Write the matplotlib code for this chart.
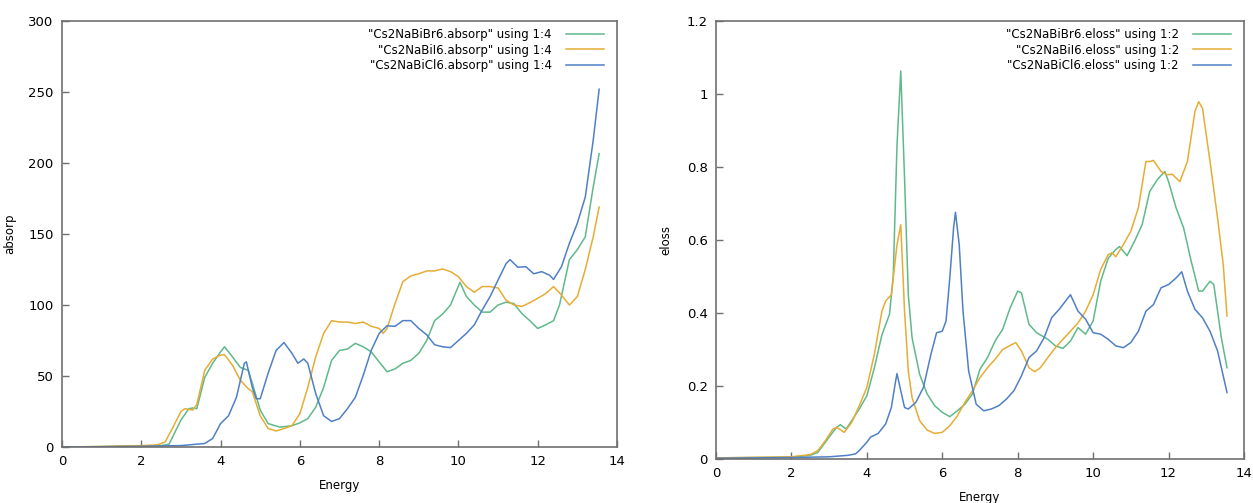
import numpy as np
import matplotlib
matplotlib.use("Agg")
import matplotlib.pyplot as plt

# absorption coefficient (column 4) vs energy
e_br_abs = [0, 1, 2, 2.5, 2.7, 3.0, 3.2, 3.3, 3.4, 3.6, 3.8, 4.0, 4.1, 4.3, 4.5, 4.7, 4.8, 5.0, 5.2, 5.5,
            5.8, 6.0, 6.2, 6.4, 6.6, 6.8, 7.0, 7.2, 7.4, 7.6, 7.8, 8.0, 8.2, 8.4, 8.6, 8.8, 9.0, 9.2,
            9.4, 9.6, 9.8, 10.04, 10.2, 10.4, 10.6, 10.8, 11.0, 11.2, 11.4, 11.6, 11.8, 12.0, 12.2,
            12.4, 12.55, 12.8, 13.0, 13.2, 13.4, 13.55]
br_abs = [0, 0.3, 0.8, 1, 2, 19, 27, 27.5, 27, 49, 59, 67, 70.6, 63.5, 56, 54, 45, 26, 16.5, 14,
          15, 17, 20, 28, 42, 61, 68, 69, 73, 70.6, 67, 60, 53, 55, 59, 61, 66, 75,
          89, 93.6, 100, 116, 106, 100, 95, 95, 100, 102, 101, 94, 89, 83.5, 86,
          89, 100, 132, 139, 148, 183, 206.6]

e_i_abs = [0, 1, 2, 2.4, 2.6, 2.8, 3.0, 3.1, 3.3, 3.4, 3.6, 3.8, 4.0, 4.1, 4.3, 4.5, 4.7, 4.8, 5.0,
           5.2, 5.4, 5.6, 5.8, 6.0, 6.2, 6.4, 6.6, 6.8, 7.0, 7.2, 7.4, 7.6, 7.8, 8.0, 8.1, 8.2, 8.4,
           8.6, 8.8, 9.0, 9.2, 9.4, 9.6, 9.8, 10.0, 10.2, 10.4, 10.6, 10.8, 11.0, 11.2, 11.4, 11.6,
           11.8, 12.0, 12.2, 12.4, 12.6, 12.8, 13.0, 13.2, 13.4, 13.55]
i_abs = [0, 0.4, 1, 1.5, 3.5, 14, 25, 27, 26, 30, 54, 62, 64.7, 65, 57.6, 47, 41, 39, 22,
         13, 11.3, 13, 15, 23.5, 42, 63.5, 80, 89, 88, 88, 87, 88, 85, 83.5, 80, 83.5, 101,
         116.5, 120.5, 122, 124, 124, 125.4, 123.5, 120, 113, 109, 113, 113, 112, 103.5, 100, 99,
         101.6, 104.7, 108, 113, 107, 100, 106, 125, 148, 169]

e_cl_abs = [0, 1, 2, 3.0, 3.4, 3.6, 3.8, 4.0, 4.2, 4.4, 4.6, 4.65, 4.8, 4.9, 5.0, 5.2, 5.4, 5.6, 5.8,
            5.95, 6.1, 6.2, 6.4, 6.6, 6.8, 7.0, 7.2, 7.4, 7.6, 7.8, 8.0, 8.2, 8.4, 8.6, 8.8, 9.0,
            9.2, 9.4, 9.6, 9.8, 10.0, 10.2, 10.4, 10.6, 10.8, 11.0, 11.2, 11.3, 11.5, 11.7, 11.9,
            12.1, 12.3, 12.4, 12.6, 12.8, 13.0, 13.2, 13.4, 13.55]
cl_abs = [0, 0.2, 0.5, 1, 2, 2.5, 6, 16.5, 22, 35, 59, 60, 42, 34, 34, 52, 68, 73.6, 66,
          59, 62, 59, 37.6, 22, 18, 20, 27, 35, 50.6, 68, 80, 85.4, 85, 89, 89, 83.5,
          79, 72, 70.6, 70, 75, 80, 86, 96.5, 106, 117.6, 129, 132, 126.6, 127, 122,
          123.5, 121, 118, 127, 143.5, 157.6, 176, 216, 252]

# energy loss function (column 2) vs energy
e_br_el = [0, 2.0, 2.5, 2.7, 3.0, 3.2, 3.3, 3.45, 3.6, 3.8, 4.0, 4.2, 4.4, 4.6, 4.7, 4.8, 4.9, 5.0,
           5.1, 5.2, 5.4, 5.6, 5.8, 6.0, 6.2, 6.4, 6.6, 6.8, 7.0, 7.2, 7.4, 7.6, 7.8, 8.0, 8.1,
           8.3, 8.5, 8.8, 9.0, 9.2, 9.4, 9.6, 9.8, 10.0, 10.2, 10.4, 10.6, 10.7, 10.9, 11.1, 11.3,
           11.5, 11.7, 11.9, 12.0, 12.2, 12.4, 12.6, 12.8, 12.9, 13.1, 13.2, 13.4, 13.55]
br_el = [0.003, 0.005, 0.01, 0.018, 0.06, 0.087, 0.094, 0.082, 0.105, 0.137, 0.173, 0.25, 0.34,
         0.396, 0.5, 0.86, 1.063, 0.77, 0.45, 0.332, 0.232, 0.178, 0.146, 0.128, 0.116, 0.132,
         0.15, 0.178, 0.246, 0.278, 0.323, 0.355, 0.414, 0.46, 0.455, 0.369, 0.346, 0.328, 0.31,
         0.303, 0.323, 0.36, 0.342, 0.378, 0.487, 0.55, 0.574, 0.582, 0.557, 0.597, 0.642, 0.733,
         0.765, 0.788, 0.76, 0.688, 0.633, 0.542, 0.46, 0.46, 0.487, 0.478, 0.332, 0.25]

e_i_el = [0, 2.0, 2.5, 2.7, 2.9, 3.1, 3.2, 3.4, 3.6, 3.8, 4.0, 4.2, 4.4, 4.5, 4.65, 4.8, 4.9, 5.0,
          5.1, 5.2, 5.4, 5.6, 5.8, 6.0, 6.2, 6.4, 6.6, 6.8, 7.0, 7.2, 7.4, 7.6, 7.8, 7.95, 8.1,
          8.3, 8.45, 8.6, 8.8, 9.0, 9.2, 9.4, 9.6, 9.8, 10.0, 10.2, 10.4, 10.5, 10.6, 10.8, 11.0,
          11.2, 11.4, 11.5, 11.6, 11.8, 11.95, 12.1, 12.3, 12.5, 12.7, 12.8, 12.9, 13.1, 13.3,
          13.45, 13.55]
i_el = [0.003, 0.006, 0.012, 0.023, 0.05, 0.082, 0.087, 0.073, 0.1, 0.146, 0.196, 0.287, 0.405,
        0.433, 0.45, 0.587, 0.642, 0.405, 0.241, 0.168, 0.105, 0.079, 0.07, 0.073, 0.091, 0.118,
        0.155, 0.187, 0.223, 0.25, 0.273, 0.3, 0.311, 0.319, 0.296, 0.25, 0.239, 0.25, 0.278,
        0.305, 0.328, 0.35, 0.373, 0.405, 0.45, 0.519, 0.56, 0.565, 0.554, 0.587, 0.624, 0.688,
        0.815, 0.815, 0.818, 0.788, 0.779, 0.78, 0.76, 0.815, 0.952, 0.979, 0.961, 0.815, 0.66,
        0.533, 0.392]

e_cl_el = [0, 2, 3, 3.5, 3.7, 3.8, 4.0, 4.1, 4.3, 4.5, 4.65, 4.75, 4.8, 4.9, 5.0, 5.1, 5.3, 5.5,
           5.7, 5.85, 6.0, 6.1, 6.2, 6.3, 6.35, 6.45, 6.55, 6.7, 6.9, 7.1, 7.3, 7.5, 7.7, 7.9,
           8.1, 8.3, 8.5, 8.7, 8.9, 9.1, 9.3, 9.4, 9.6, 9.8, 10.0, 10.2, 10.4, 10.6, 10.8, 11.0,
           11.2, 11.4, 11.6, 11.8, 12.0, 12.2, 12.35, 12.5, 12.7, 12.9, 13.1, 13.3, 13.55]
cl_el = [0.002, 0.004, 0.006, 0.01, 0.014, 0.023, 0.046, 0.06, 0.07, 0.096, 0.141, 0.205, 0.234,
         0.187, 0.141, 0.137, 0.155, 0.196, 0.287, 0.346, 0.35, 0.378, 0.496, 0.633, 0.676, 0.587,
         0.405, 0.241, 0.15, 0.132, 0.137, 0.146, 0.164, 0.187, 0.228, 0.278, 0.296, 0.332, 0.387,
         0.41, 0.437, 0.45, 0.405, 0.383, 0.346, 0.342, 0.328, 0.31, 0.305, 0.319, 0.35, 0.405,
         0.423, 0.469, 0.478, 0.496, 0.513, 0.46, 0.41, 0.387, 0.35, 0.296, 0.182]

green = "#5fb98a"
yellow = "#e6ad35"
blue = "#4f80c6"
frame = "#707070"

fig = plt.figure(figsize=(12.53, 5.03), dpi=100)
ax1 = fig.add_axes([0.0495, 0.1113, 0.4429, 0.8469])
ax2 = fig.add_axes([0.5714, 0.0875, 0.4214, 0.8707])

ax1.plot(e_br_abs, br_abs, color=green, lw=1.1, label='"Cs2NaBiBr6.absorp" using 1:4')
ax1.plot(e_i_abs, i_abs, color=yellow, lw=1.1, label='"Cs2NaBiI6.absorp" using 1:4')
ax1.plot(e_cl_abs, cl_abs, color=blue, lw=1.1, label='"Cs2NaBiCl6.absorp" using 1:4')
ax1.set_xlim(0, 14)
ax1.set_ylim(0, 300)
ax1.set_ylabel("absorp", fontsize=8.5)

ax2.plot(e_br_el, br_el, color=green, lw=1.1, label='"Cs2NaBiBr6.eloss" using 1:2')
ax2.plot(e_i_el, i_el, color=yellow, lw=1.1, label='"Cs2NaBiI6.eloss" using 1:2')
ax2.plot(e_cl_el, cl_el, color=blue, lw=1.1, label='"Cs2NaBiCl6.eloss" using 1:2')
ax2.set_xlim(0, 14)
ax2.set_ylim(0, 1.2)
ax2.set_yticks([0, 0.2, 0.4, 0.6, 0.8, 1, 1.2])
ax2.set_yticklabels(["0", "0.2", "0.4", "0.6", "0.8", "1", "1.2"])
ax2.set_ylabel("eloss", fontsize=8.5)

for ax in (ax1, ax2):
    ax.set_xlabel("Energy", fontsize=8.5, labelpad=8)
    ax.set_xticks(range(0, 15, 2))
    for s in ax.spines.values():
        s.set_color(frame)
        s.set_linewidth(1.2)
    ax.tick_params(direction="in", length=5, width=1, color=frame, labelsize=9.5, pad=6,
                   top=False, right=False)
    leg = ax.legend(loc="upper right", frameon=False, fontsize=8.5, markerfirst=False,
                    handlelength=3.2, handletextpad=1.2, labelspacing=0.2,
                    bbox_to_anchor=(0.995, 1.008))
    for t in leg.get_texts():
        t.set_ha("right")
    leg._legend_box.align = "right"

ax1.yaxis.set_label_coords(-0.082, 0.5)
ax2.yaxis.set_label_coords(-0.082, 0.5)

plt.savefig("out.png", dpi=100)
